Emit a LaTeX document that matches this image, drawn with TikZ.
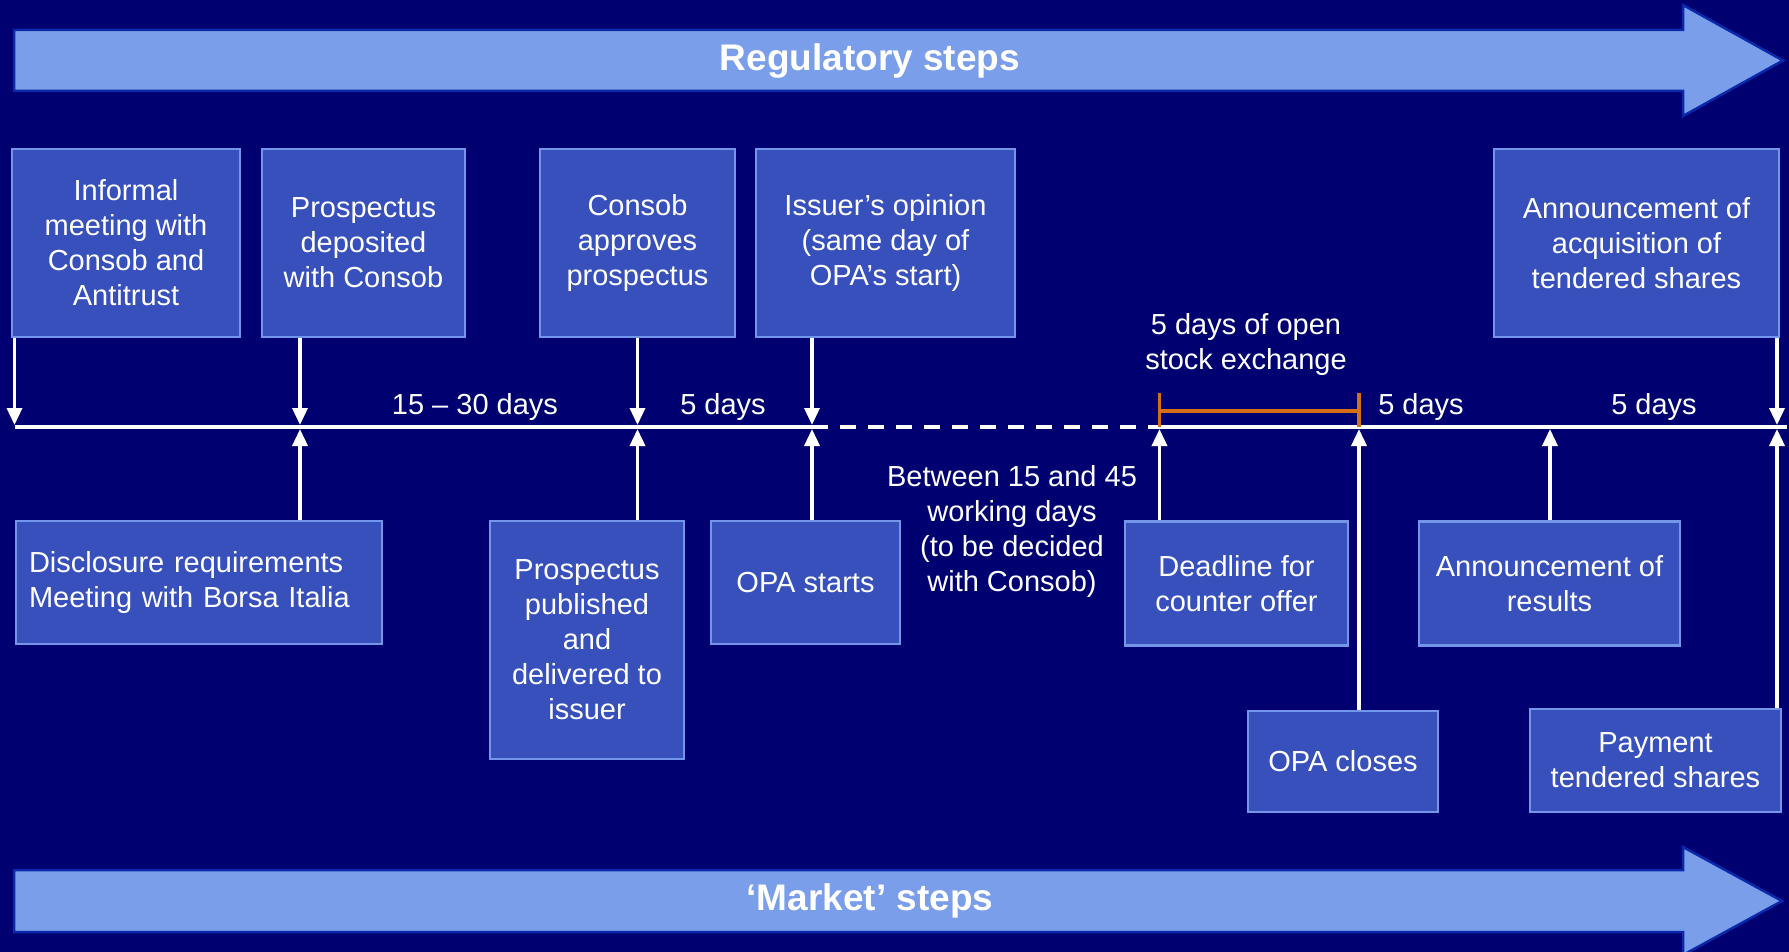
\documentclass[tikz,border=0pt]{standalone}
\usepackage{fontspec}
\setmainfont{Liberation Sans}
\usetikzlibrary{arrows.meta}
\definecolor{bgnavy}{RGB}{0,0,112}
\definecolor{bandfill}{RGB}{122,158,234}
\definecolor{banddraw}{RGB}{10,40,170}
\definecolor{boxfill}{RGB}{55,80,187}
\definecolor{boxdraw}{RGB}{115,150,235}
\definecolor{spanorange}{RGB}{214,110,24}
\begin{document}
\begin{tikzpicture}[x=1pt,y=-1pt,
  band/.style={fill=bandfill,draw=banddraw,line width=2.5pt,line join=miter},
  bandtext/.style={text=white,font=\fontsize{37}{44}\selectfont\bfseries},
  evbox/.style={draw=boxdraw,fill=boxfill,line width=2.5pt,text=white,align=center,
    inner sep=0pt,font=\fontsize{29}{35}\selectfont},
  lbl/.style={text=white,align=center,inner sep=0pt,font=\fontsize{29}{35}\selectfont},
  tline/.style={draw=white,line width=4pt},
  arr/.style={draw=white,line width=3.5pt,-{Triangle[length=17pt,width=15pt]}},
  span/.style={draw=spanorange,line width=3.5pt},
]
\useasboundingbox (0,0) rectangle (1789,952);
\fill[bgnavy] (0,0) rectangle (1789,952);

% band arrows
\path[band] (14,30) -- (1683,30) -- (1683,5) -- (1783,60.5) -- (1683,116) -- (1683,91) -- (14,91) -- cycle;
\node[bandtext] (reg) at (870,61) {Regulatory steps};
\path[band] (14,870) -- (1683,870) -- (1683,847) -- (1782,901) -- (1683,955) -- (1683,932) -- (14,932) -- cycle;
\node[bandtext] (mkt) at (870,901) {‘Market’ steps};

% timeline points
\coordinate (t0) at (14.5,427);
\coordinate (t1) at (300,427);
\coordinate (t2) at (637.5,427);
\coordinate (t3) at (812,427);
\coordinate (t4) at (1159.5,427);
\coordinate (t5) at (1359,427);
\coordinate (t6) at (1550,427);
\coordinate (t7) at (1777,427);
\coordinate (tend) at (1787,427);

\draw[tline] (t0) -- (t3);
\draw[tline,dash pattern=on 16pt off 12pt] (t3) -- (t4);
\draw[tline] (t4) -- (tend);

% regulatory events
\node[evbox,minimum width=228pt,minimum height=188pt] (T1) at (126,243) {Informal\\meeting with\\Consob and\\Antitrust};
\node[evbox,minimum width=203pt,minimum height=188pt] (T2) at (363.5,243) {Prospectus\\deposited\\with Consob};
\node[evbox,minimum width=195pt,minimum height=188pt] (T3) at (637.5,243) {Consob\\approves\\prospectus};
\node[evbox,minimum width=259pt,minimum height=188pt] (T4) at (885.5,243) {Issuer’s opinion\\(same day of\\OPA’s start)};
\node[evbox,minimum width=285pt,minimum height=188pt] (T5) at (1636.5,243) {Announcement of\\acquisition of\\tendered shares};

% market events
\node[evbox,minimum width=366pt,minimum height=123pt,text width=340pt,align=left,inner sep=13pt] (B1) at (199,582.5) {Disclosure requirements\\Meeting with Borsa Italia};
\node[evbox,minimum width=194pt,minimum height=238pt] (B2) at (587,640) {Prospectus\\published\\and\\delivered to\\issuer};
\node[evbox,minimum width=189pt,minimum height=123pt] (B3) at (805.5,582.5) {OPA starts};
\node[evbox,minimum width=223pt,minimum height=124pt] (B4) at (1236.5,583.5) {Deadline for\\counter offer};
\node[evbox,minimum width=190pt,minimum height=101pt] (B5) at (1343,761.5) {OPA closes};
\node[evbox,minimum width=261pt,minimum height=124pt] (B6) at (1549.5,583.5) {Announcement of\\results};
\node[evbox,minimum width=251pt,minimum height=103pt] (B7) at (1655.5,760.5) {Payment\\tendered shares};

% connectors down to the timeline
\draw[arr] (T1.south -| t0) -- ([yshift=2pt]t0);
\draw[arr] (T2.south -| t1) -- ([yshift=2pt]t1);
\draw[arr] (T3.south -| t2) -- ([yshift=2pt]t2);
\draw[arr] (T4.south -| t3) -- ([yshift=2pt]t3);
\draw[arr] (T5.south -| t7) -- ([yshift=2pt]t7);

% connectors up to the timeline
\draw[arr] (B1.north -| t1) -- ([yshift=-2pt]t1);
\draw[arr] (B2.north -| t2) -- ([yshift=-2pt]t2);
\draw[arr] (B3.north -| t3) -- ([yshift=-2pt]t3);
\draw[arr] (B4.north -| t4) -- ([yshift=-2pt]t4);
\draw[arr] (B5.north -| t5) -- ([yshift=-2pt]t5);
\draw[arr] (B6.north -| t6) -- ([yshift=-2pt]t6);
\draw[arr] (B7.north -| t7) -- ([yshift=-2pt]t7);

% open stock exchange span
\coordinate (s0) at (1159.5,393);
\coordinate (s1) at (1359,393);
\coordinate (m0) at (1159.5,411);
\coordinate (m1) at (1359,411);
\draw[span] (s0) -- (s0 |- t0) (s1) -- (s1 |- t0);
\draw[span] (m0) -- (m1);

% durations
\node[lbl] (d1) at (475,407) {15 – 30 days};
\node[lbl] (d2) at (723,407) {5 days};
\node[lbl] (d3) at (1246,344.5) {5 days of open\\stock exchange};
\node[lbl] (d4) at (1421,407) {5 days};
\node[lbl] (d5) at (1654,407) {5 days};
\node[lbl] (d6) at (1012,531) {Between 15 and 45\\working days\\(to be decided\\with Consob)};
\end{tikzpicture}
\end{document}
